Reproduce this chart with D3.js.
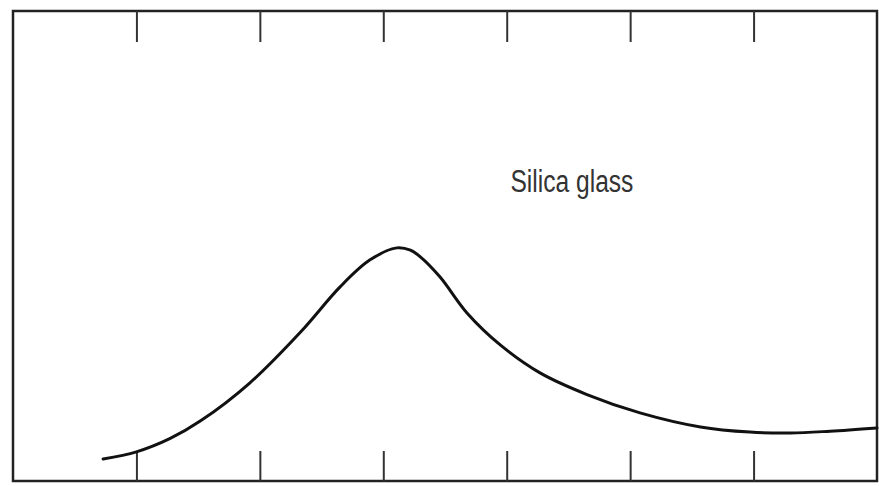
<!DOCTYPE html>
<html>
<head>
<meta charset="utf-8">
<script src="https://cdn.jsdelivr.net/npm/d3@7"></script>
<style>
    body { margin: 0; background: #fff; }
    .label { font-family: "Liberation Sans Narrow", "Arial Narrow", "Liberation Sans", sans-serif; fill: #333; }
</style>
</head>
<body>
<div id="chart"></div>
<script>
// curve (x in tick units, y in % of box height)
var curveX = [0.73, 1.00, 1.27, 1.52, 1.92, 2.33, 2.65, 2.89, 3.11, 3.22, 3.30, 3.46, 3.68, 3.95, 4.27, 4.65, 5.08, 5.57, 5.97, 6.30, 6.62, 7.0];
var curveY = [4.7, 6.2, 9.0, 12.8, 20.9, 31.7, 41.3, 47.0, 49.6, 49.1, 47.7, 43.4, 35.7, 28.9, 23.0, 18.4, 14.5, 11.5, 10.4, 10.2, 10.6, 11.3];
var tickValues = [1, 2, 3, 4, 5, 6];
var curveLabel = "Silica glass";

var svgWidth = 879;
var svgHeight = 486;

var margin = {
    top: 11,
    bottom: 5,
    right: 2,
    left: 13
};

var width = svgWidth - margin.left - margin.right;
var height = svgHeight - margin.top - margin.bottom;

var svg = d3.select("#chart")
    .append("svg")
    .attr("width", svgWidth)
    .attr("height", svgHeight);

var chartGroup = svg.append("g")
    .attr("transform", `translate(${margin.left}, ${margin.top})`);

var xLinearScale = d3.scaleLinear()
    .domain([0, 7])
    .range([0, width]);

var yLinearScale = d3.scaleLinear()
    .domain([0, 100])
    .range([height, 0]);

// frame
chartGroup.append("rect")
    .attr("x", 0)
    .attr("y", 0)
    .attr("width", width)
    .attr("height", height)
    .attr("fill", "none")
    .attr("stroke", "#222")
    .attr("stroke-width", 2.5);

// inward ticks, no labels
var topAxis = d3.axisTop(xLinearScale)
    .tickValues(tickValues)
    .tickSize(-31)
    .tickFormat("");

var bottomAxis = d3.axisBottom(xLinearScale)
    .tickValues(tickValues)
    .tickSize(-30)
    .tickFormat("");

chartGroup.append("g")
    .attr("class", "axis")
    .call(topAxis);

chartGroup.append("g")
    .attr("class", "axis")
    .attr("transform", `translate(0, ${height})`)
    .call(bottomAxis);

chartGroup.selectAll(".axis .domain").remove();
chartGroup.selectAll(".axis line")
    .attr("stroke", "#333")
    .attr("stroke-width", 2);

var points = curveX.map((x, i) => [x, curveY[i]]);

var line = d3.line()
    .x(d => xLinearScale(d[0]))
    .y(d => yLinearScale(d[1]))
    .curve(d3.curveCatmullRom.alpha(0.5));

chartGroup.append("path")
    .datum(points)
    .attr("d", line)
    .attr("fill", "none")
    .attr("stroke", "#111")
    .attr("stroke-width", 3)
    .attr("stroke-linecap", "round");

chartGroup.append("text")
    .attr("class", "label")
    .attr("x", xLinearScale(4.03))
    .attr("y", yLinearScale(61.5))
    .attr("font-size", 31)
    .attr("textLength", 123)
    .attr("lengthAdjust", "spacingAndGlyphs")
    .text(curveLabel);
</script>
</body>
</html>
